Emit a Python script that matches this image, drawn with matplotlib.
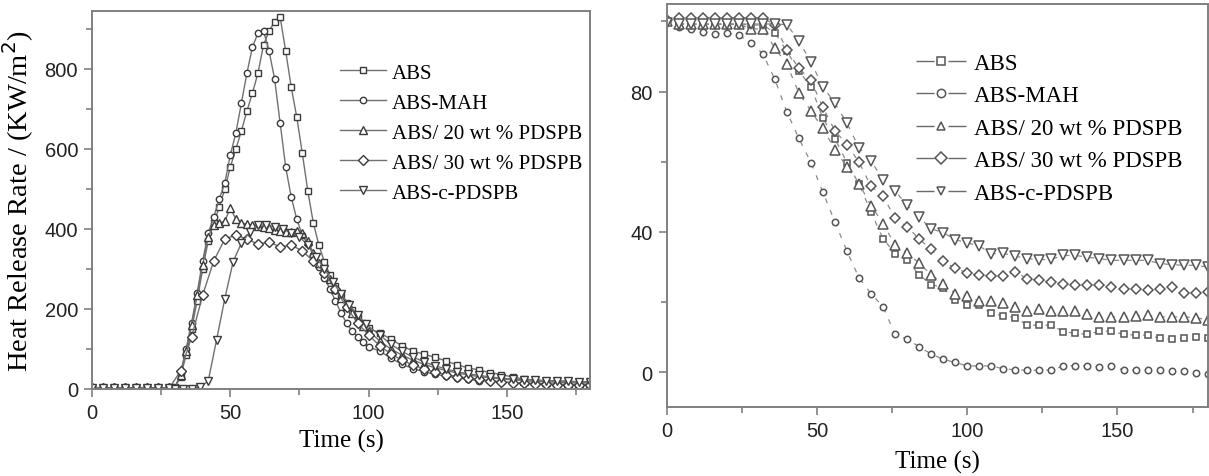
import numpy as np
import matplotlib
matplotlib.use("Agg")
import matplotlib.pyplot as plt
from matplotlib.lines import Line2D
from matplotlib.ticker import MultipleLocator

# ---------------- left panel: heat release rate ----------------
t_fast = np.r_[np.arange(0, 29, 4), np.arange(30, 101, 2), np.arange(104, 181, 4)]
t_p30  = np.arange(0, 181, 4)
t_absc = np.r_[np.arange(0, 29, 4), np.arange(30, 100, 3), np.arange(104, 181, 4)]

hrr_abs = [3, 3, 3, 3, 3, 3, 3, 3,
           5, 30, 85, 150, 220, 300, 370, 415, 455, 500,
           555, 600, 645, 695, 740, 790, 860, 895, 918, 930,
           845, 755, 680, 590, 495, 415, 360, 318, 285, 258,
           235, 215, 197, 180, 165, 152,
           140, 125, 108, 95, 87, 79, 70, 60, 53, 47,
           41, 36, 30, 25, 22, 21, 20, 19, 18, 18]
hrr_mah = [3, 3, 3, 3, 3, 3, 3, 3,
           3, 40, 100, 165, 240, 320, 390, 430, 475, 515,
           585, 640, 715, 790, 855, 890, 895, 845, 775, 665,
           555, 480, 425, 385, 362, 335, 305, 278, 250, 220,
           190, 165, 145, 130, 117, 105,
           95, 77, 62, 51, 43, 37, 32, 28, 24, 21,
           19, 17, 16, 15, 14, 13, 12, 12, 11, 11]
hrr_p20 = [3, 3, 3, 3, 3, 3, 3, 3,
           3, 35, 95, 160, 235, 310, 380, 410, 415, 420,
           452, 425, 415, 412, 410, 408, 405, 402, 398, 395,
           393, 392, 395, 390, 370, 340, 315, 295, 275, 250,
           228, 208, 190, 173, 158, 145,
           120, 100, 85, 72, 62, 53, 46, 40, 35, 31,
           28, 25, 23, 21, 19, 18, 17, 16, 15, 15]
hrr_p30 = [3, 3, 3, 3, 3, 3, 3, 3,
           45, 130, 235, 320, 375, 385, 375, 362, 368, 355,
           360, 345, 320, 290, 250, 205, 165, 135, 108, 88,
           72, 60, 50, 42, 36, 31, 27, 24, 21, 18,
           16, 14, 13, 12, 11, 10, 10, 9]
hrr_absc = [3, 3, 3, 3, 3, 3, 3, 3,
            1, 1, 1, 4, 20, 122, 226, 318, 365, 392,
            410, 410, 405, 400, 390, 380, 360, 330, 300, 268,
            238, 210, 185, 162,
            135, 112, 94, 80, 68, 58, 50, 43, 38, 34,
            30, 27, 25, 23, 22, 21, 20, 19, 18, 17]

# ---------------- right panel: mass ----------------
t_mass = np.arange(0, 181, 4)
mass_abs = [100, 99.2, 99.2, 99.2, 99.2, 99.2, 99.2, 99, 99, 96.8,
            91.5, 85.9, 81.4, 72.4, 66.5, 59.8, 53.7, 45.6, 38.1, 33.8,
            31.9, 27.8, 25, 24.1, 20.5, 19.3, 19.1, 16.8, 16.1, 15.6,
            13.4, 13.4, 13.4, 11.6, 11.1, 10.8, 11.7, 11.7, 10.8, 10.6,
            10.6, 9.7, 9.4, 9.7, 10.1, 9.7]
mass_mah = [100, 98.5, 97.9, 97, 96.5, 96.7, 96.1, 93.9, 90.8, 83.5,
            74.2, 66.7, 59.8, 51.3, 42.8, 34.5, 26.9, 22.4, 18.7, 10.8,
            9.4, 7.3, 5.2, 3.7, 2.8, 1.8, 1.8, 1.8, 1.0, 0.7,
            0.6, 0.6, 0.6, 1.8, 1.9, 1.8, 1.6, 1.8, 0.6, 0.6,
            0.6, 0.6, 0.4, 0.4, -0.3, -0.6]
mass_p20 = [100, 99.2, 99.2, 99.2, 99.2, 99.2, 99.2, 97.9, 97.9, 92.5,
            87.8, 79.6, 74.5, 69.5, 63.5, 58.5, 53.8, 47.5, 42.4, 36.3,
            34, 31.1, 27.8, 25.3, 22.4, 21.8, 20.3, 20.2, 19.8, 18.7,
            17.4, 17.9, 17.4, 17.6, 17.6, 16.5, 15.8, 15.8, 15.8, 16.1,
            16.2, 15.8, 15.8, 15.8, 15.6, 14.9]
mass_p30 = [100.5, 101, 101, 101, 101, 101, 101, 101, 101, 99.1,
            91.8, 86.7, 83.2, 75.5, 68.8, 64.9, 59.9, 53, 50.2, 44,
            41.5, 38, 35, 31.6, 29.7, 28.3, 27.6, 27.5, 27.5, 28.6,
            26.7, 26.2, 25.7, 25.3, 25, 25, 25, 24.3, 23.7, 23.7,
            23.4, 23.7, 24.3, 22.6, 22.7, 22.9]
mass_absc = [99.5, 99.3, 99.3, 99.3, 99.3, 99.3, 99.3, 99.3, 99.3, 99.3,
             99.1, 94.5, 88.4, 81.4, 76.7, 71, 64, 60.3, 54.8, 51.7,
             47.6, 44.2, 40.9, 39.8, 37.8, 36.9, 36, 33.8, 33.9, 33.1,
             32.4, 32.1, 32.2, 33.3, 33.3, 32.8, 32.4, 31.9, 31.9, 31.9,
             31.9, 31, 30.7, 30.5, 30.5, 30]

labels = ["ABS", "ABS-MAH", "ABS/ 20 wt % PDSPB", "ABS/ 30 wt % PDSPB", "ABS-c-PDSPB"]
markers = ["s", "o", "^", "D", "v"]

SERIF = ["Liberation Serif", "DejaVu Serif"]
SANS = ["Liberation Sans", "DejaVu Sans"]
SPINE = "#808080"

fig = plt.figure(figsize=(12.09, 4.77), dpi=100)
ax1 = fig.add_axes([0.0761, 0.1824, 0.4119, 0.7925])
ax2 = fig.add_axes([0.5514, 0.1447, 0.4475, 0.8449])

# left panel
left_sets = [(t_fast, hrr_abs, 4.2), (t_fast, hrr_mah, 4.6), (t_fast, hrr_p20, 5.6),
             (t_p30, hrr_p30, 4.6), (t_absc, hrr_absc, 5.6)]
for (tt, yy, ms), lab, mk in zip(left_sets, labels, markers):
    ax1.plot(tt, yy, color="#707070", lw=1.0, marker=mk, ms=ms, mfc="white",
             mec="#3a3a3a", mew=1.0, label=lab)

ax1.set_xlim(0, 180)
ax1.set_ylim(0, 945)
ax1.xaxis.set_major_locator(MultipleLocator(50))
ax1.xaxis.set_minor_locator(MultipleLocator(25))
ax1.yaxis.set_major_locator(MultipleLocator(200))
ax1.yaxis.set_minor_locator(MultipleLocator(100))
ax1.set_xlabel("Time (s)", family=SERIF, fontsize=18, labelpad=5)
ax1.set_ylabel("Heat Release Rate / (KW/m$^2$)", family=SERIF, fontsize=20.5, labelpad=6)
leg1 = ax1.legend(loc="upper left", bbox_to_anchor=(0.477, 0.89), frameon=False,
                  prop={"family": SERIF, "size": 15}, handlelength=2.2,
                  handletextpad=0.3, labelspacing=0.5, borderpad=0, numpoints=1)

# right panel
right_sets = [(mass_abs, 5.0), (mass_mah, 4.6), (mass_p20, 6.8), (mass_p30, 5.4), (mass_absc, 6.8)]
for (yy, ms), mk in zip(right_sets, markers):
    ax2.plot(t_mass, yy, color="#8a8a8a", lw=0.9, ls=(0, (4, 6)), marker=mk, ms=ms,
             mfc="white", mec="#555555", mew=1.1)

# legend handles: "— marker —" with a gap around the marker
handles = [Line2D([], [], color="#6a6a6a", lw=1.0, ls=(0, (13, 10)), marker=mk, ms=6,
                  mfc="white", mec="#555555", mew=1.1) for mk in markers]
leg2 = ax2.legend(handles, labels, loc="upper left", bbox_to_anchor=(0.44, 0.908),
                  frameon=False, prop={"family": SERIF, "size": 16.5}, handlelength=36 / 16.5,
                  handletextpad=0.35, labelspacing=0.5, borderpad=0, numpoints=1)

ax2.set_xlim(0, 180)
ax2.set_ylim(-9.9, 105)
ax2.xaxis.set_major_locator(MultipleLocator(50))
ax2.xaxis.set_minor_locator(MultipleLocator(25))
ax2.yaxis.set_major_locator(MultipleLocator(40))
ax2.yaxis.set_minor_locator(MultipleLocator(20))
ax2.set_xlabel("Time (s)", family=SERIF, fontsize=18, labelpad=7)

for ax in (ax1, ax2):
    for sp in ax.spines.values():
        sp.set_color(SPINE)
        sp.set_linewidth(1.4)
    ax.tick_params(which="both", direction="out", color=SPINE, width=1.2)
    ax.tick_params(which="major", length=6, labelsize=14.5, pad=4)
    ax.tick_params(which="minor", length=4)
    for lab in ax.get_xticklabels() + ax.get_yticklabels():
        lab.set_family(SANS)
        lab.set_color("#222222")

fig.savefig("out.png", dpi=100)
